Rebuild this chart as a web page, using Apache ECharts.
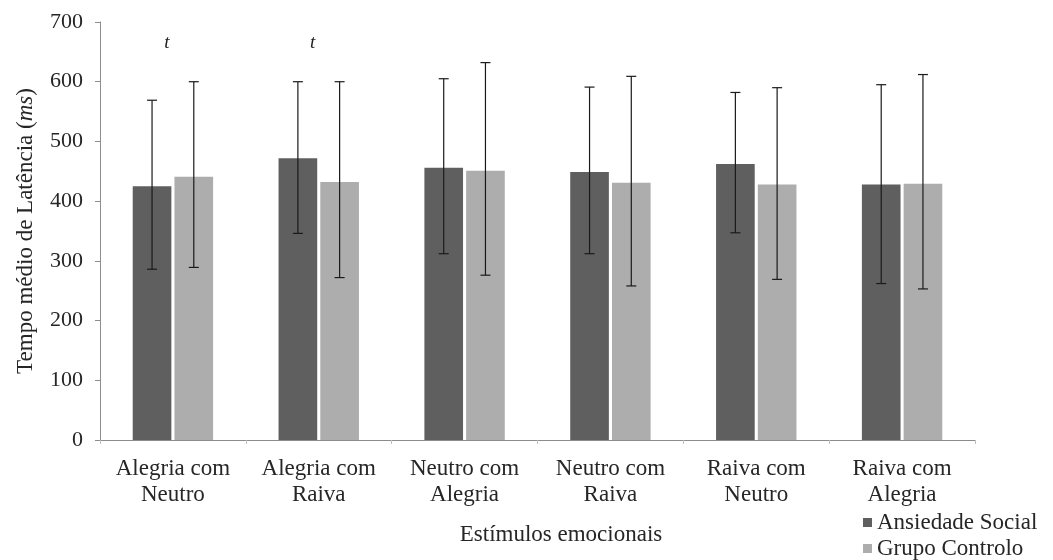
<!DOCTYPE html>
<html>
<head>
<meta charset="utf-8">
<script src="https://cdn.jsdelivr.net/npm/echarts@6/dist/echarts.min.js"></script>
<style>
html,body{margin:0;padding:0;background:#fff;}
#chart{width:1053px;height:560px;}
</style>
</head>
<body>
<div id="chart"></div>
<script>
var categories = ['Alegria com\nNeutro', 'Alegria com\nRaiva', 'Neutro com\nAlegria', 'Neutro com\nRaiva', 'Raiva com\nNeutro', 'Raiva com\nAlegria'];
var seriesNames = ['Ansiedade Social', 'Grupo Controlo'];
var ansiedadeMean = [425, 472, 456, 449, 462, 428];
var ansiedadeLow  = [286, 346, 312, 312, 347, 262];
var ansiedadeHigh = [569, 600, 605, 591, 582, 595];
var controloMean  = [441, 432, 451, 431, 428, 429];
var controloLow   = [289, 272, 276, 258, 269, 253];
var controloHigh  = [600, 600, 632, 609, 590, 612];
var sigLabels = ['t', 't', '', '', '', ''];
var sigValue = 664;
var yTicks = [0, 100, 200, 300, 400, 500, 600, 700];

var FONT = '"Liberation Serif", "Times New Roman", serif';
var TXT = '#262626';
var BAR_W = 0.265, BAR_GAP = 0.08;
var offsetFrac = BAR_W * (1 + BAR_GAP) / 2;

function errorRender(side) {
  return function (params, api) {
    var band = api.size([1, 0])[0];
    var ci = api.value(0);
    var lo = api.coord([ci, api.value(1)]);
    var hi = api.coord([ci, api.value(2)]);
    var x = lo[0] + side * offsetFrac * band;
    var cap = 5;
    var st = { stroke: '#1a1a1a', lineWidth: 1.2 };
    return {
      type: 'group',
      children: [
        { type: 'line', shape: { x1: x, y1: lo[1], x2: x, y2: hi[1] }, style: st },
        { type: 'line', shape: { x1: x - cap, y1: lo[1], x2: x + cap, y2: lo[1] }, style: st },
        { type: 'line', shape: { x1: x - cap, y1: hi[1], x2: x + cap, y2: hi[1] }, style: st }
      ]
    };
  };
}

function errData(lo, hi) {
  return categories.map(function (c, i) { return [i, lo[i], hi[i]]; });
}

var chart = echarts.init(document.getElementById('chart'), null, { renderer: 'canvas' });
chart.setOption({
  animation: false,
  backgroundColor: '#ffffff',
  textStyle: { fontFamily: FONT },
  grid: { left: 100, right: 78, top: 22, bottom: 120, containLabel: false },
  legend: {
    orient: 'vertical',
    left: 858,
    top: 506,
    height: 54,
    itemWidth: 9,
    itemHeight: 9,
    itemGap: 3,
    icon: 'rect',
    data: seriesNames,
    textStyle: { fontFamily: FONT, fontSize: 23, lineHeight: 23, color: TXT }
  },
  xAxis: {
    type: 'category',
    data: categories,
    boundaryGap: true,
    axisLine: { lineStyle: { color: '#8c8c8c', width: 1 } },
    axisTick: { show: true, length: 4, lineStyle: { color: '#bdbdbd' }, alignWithLabel: false },
    axisLabel: { fontFamily: FONT, fontSize: 23, color: TXT, margin: 16, lineHeight: 26, interval: 0 },
    splitLine: { show: false }
  },
  yAxis: {
    type: 'value',
    min: 0,
    max: 700,
    interval: 100,
    axisLine: { show: true, lineStyle: { color: '#8c8c8c', width: 1 } },
    axisTick: { show: true, length: 5, lineStyle: { color: '#8c8c8c' } },
    axisLabel: { fontFamily: FONT, fontSize: 22, color: TXT, margin: 17,
      formatter: function (v) { return yTicks.indexOf(v) >= 0 ? String(v) : ''; } },
    splitLine: { show: false },
    name: 'Tempo médio de Latência ({i|ms})',
    nameLocation: 'middle',
    nameGap: 63,
    nameRotate: 90,
    nameTextStyle: { fontFamily: FONT, fontSize: 23, color: TXT,
      rich: { i: { fontFamily: FONT, fontSize: 23, fontStyle: 'italic', color: TXT } } }
  },
  graphic: [
    { type: 'text', x: 561, y: 535,
      style: { text: 'Estímulos emocionais', font: '23px ' + FONT, fill: TXT, align: 'center', verticalAlign: 'middle' } }
  ],
  series: [
    { name: seriesNames[0], type: 'bar', data: ansiedadeMean, barWidth: (BAR_W * 100) + '%', barGap: (BAR_GAP * 100) + '%',
      itemStyle: { color: '#5f5f5f' }, z: 2 },
    { name: seriesNames[1], type: 'bar', data: controloMean, barWidth: (BAR_W * 100) + '%',
      itemStyle: { color: '#adadad' }, z: 2 },
    { type: 'custom', renderItem: errorRender(-1), data: errData(ansiedadeLow, ansiedadeHigh), z: 5, silent: true },
    { type: 'custom', renderItem: errorRender(1), data: errData(controloLow, controloHigh), z: 5, silent: true },
    { type: 'custom', z: 5, silent: true,
      data: sigLabels.map(function (s, i) { return [i, sigValue, s]; }),
      renderItem: function (params, api) {
        var i = params.dataIndex;
        var p = api.coord([api.value(0), api.value(1)]);
        return { type: 'text', x: p[0] - 6, y: p[1],
          style: { text: sigLabels[i], font: 'italic 19px ' + FONT, fill: '#222', align: 'center', verticalAlign: 'middle' } };
      } }
  ]
});
</script>
</body>
</html>
